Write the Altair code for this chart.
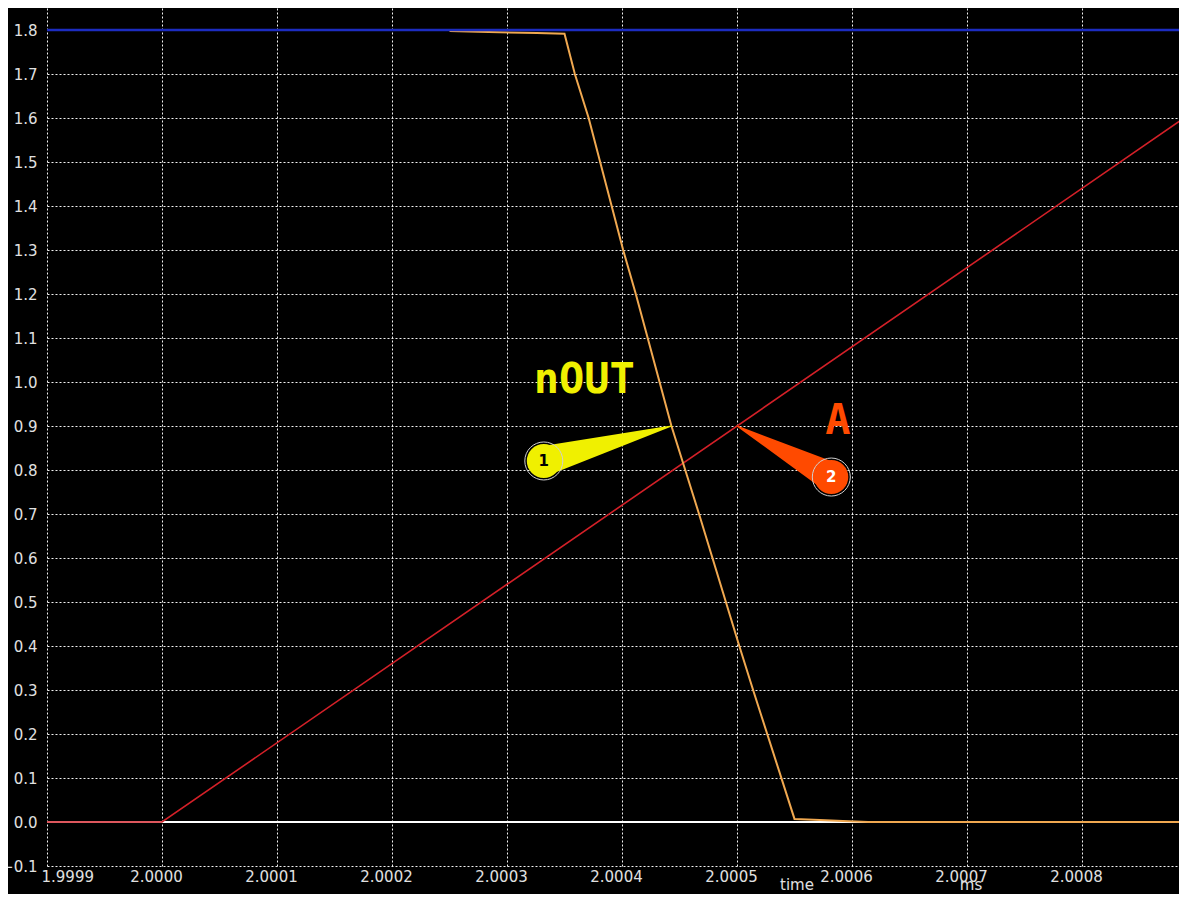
import altair as alt
import pandas as pd

# ---- data ----
x_ticks = [1.9999, 2.0000, 2.0001, 2.0002, 2.0003, 2.0004, 2.0005, 2.0006, 2.0007, 2.0008]
y_ticks = [-0.1, 0.0, 0.1, 0.2, 0.3, 0.4, 0.5, 0.6, 0.7, 0.8, 0.9,
           1.0, 1.1, 1.2, 1.3, 1.4, 1.5, 1.6, 1.7, 1.8]
x_domain = [1.9999, 2.00088435]
y_domain = [-0.1, 1.85]

white_t = [1.9999, 2.0009]
white_v = [0.0, 0.0]

blue_t = [1.9999, 2.0009]
blue_v = [1.8, 1.8]

red_t = [1.9999, 2.0000, 2.0010]
red_v = [0.0, 0.0, 1.8]

orange_t = [2.00025, 2.000275, 2.000326, 2.00035, 2.000359, 2.000371, 2.000401,
            2.000412, 2.000443, 2.000455, 2.000467, 2.000502, 2.000514, 2.00055,
            2.000572, 2.000592, 2.000614, 2.0009]
orange_v = [1.798, 1.796, 1.793, 1.7915, 1.7, 1.6, 1.3, 1.2, 0.9, 0.8, 0.7,
            0.4, 0.3, 0.007, 0.0045, 0.0023, 0.0, 0.0]

# callouts: tip on the trace, bubble centre, label position
callout_id = ["1", "2"]
callout_tip_t = [2.000443, 2.0005]
callout_tip_v = [0.9, 0.9]
callout_c_t = [2.000332, 2.000582]
callout_c_v = [0.8205, 0.784]
callout_color = ["#f0f000", "#ff4a00"]
callout_numcolor = ["#000000", "#ffffff"]
label_text = ["nOUT", "A"]
label_t = [2.0003672, 2.0005877]
label_v = [0.975, 0.8818]

FONT = "DejaVu Sans"
LBL = "#e0e0e0"

xs = alt.Scale(domain=x_domain, nice=False, zero=False)
ys = alt.Scale(domain=y_domain, nice=False, zero=False)

xenc = alt.X("t:Q", scale=xs,
             axis=alt.Axis(values=x_ticks, format=".4f", title=None, grid=True,
                           labelOffset=-6, labelPadding=3))
yenc = alt.Y("v:Q", scale=ys,
             axis=alt.Axis(values=y_ticks, format=".1f", title=None, grid=True,
                           labelPadding=10))

def line_df(t, v):
    return pd.DataFrame({"t": t, "v": v})

white = alt.Chart(line_df(white_t, white_v)).mark_line(color="#ffffff", strokeWidth=2, clip=True).encode(x=xenc, y=yenc)
red = alt.Chart(line_df(red_t, red_v)).mark_line(color="#d42028", strokeWidth=1.6, clip=True).encode(x="t:Q", y="v:Q")
orange = alt.Chart(line_df(orange_t, orange_v)).mark_line(color="#f0a850", strokeWidth=2, clip=True).encode(x="t:Q", y="v:Q")
blue = alt.Chart(line_df(blue_t, blue_v)).mark_line(color="#1c2cc0", strokeWidth=2.5, clip=True).encode(x="t:Q", y="v:Q")

# wedge (trail) rows
wedge_rows = []
for i, cid in enumerate(callout_id):
    wedge_rows.append({"id": cid, "t": callout_tip_t[i], "v": callout_tip_v[i], "w": 0.0, "col": callout_color[i], "o": 0})
    wedge_rows.append({"id": cid, "t": callout_c_t[i], "v": callout_c_v[i], "w": 30.0, "col": callout_color[i], "o": 1})
wedge_df = pd.DataFrame(wedge_rows)
wedges = alt.Chart(wedge_df).mark_trail().encode(
    x="t:Q", y="v:Q", detail="id:N",
    size=alt.Size("w:Q", scale=None, legend=None),
    color=alt.Color("col:N", scale=None, legend=None),
    order="o:Q",
)

bub_df = pd.DataFrame({"t": callout_c_t, "v": callout_c_v, "col": callout_color,
                       "num": callout_id, "ncol": callout_numcolor})
rings = alt.Chart(bub_df).mark_point(shape="circle", filled=False, size=38 * 38,
                                     stroke="#d0d0d0", strokeWidth=1, opacity=1).encode(x="t:Q", y="v:Q")
discs = alt.Chart(bub_df).mark_point(shape="circle", filled=True, size=34 * 34, opacity=1).encode(
    x="t:Q", y="v:Q", color=alt.Color("col:N", scale=None, legend=None))
nums = alt.Chart(bub_df).mark_text(font=FONT, fontSize=15, fontWeight="bold",
                                   align="center", baseline="middle").encode(
    x="t:Q", y="v:Q", text="num:N", color=alt.Color("ncol:N", scale=None, legend=None))

lab_df = pd.DataFrame({"t": label_t, "v": label_v, "txt": label_text, "col": callout_color})
labels = alt.Chart(lab_df).mark_text(font="DejaVu Sans Mono", fontSize=42, fontWeight="bold",
                                     align="center", baseline="alphabetic").encode(
    x="t:Q", y="v:Q", text="txt:N", color=alt.Color("col:N", scale=None, legend=None))

title_df = pd.DataFrame({"txt": ["time"]})
ms_df = pd.DataFrame({"txt": ["ms"]})
t_time = alt.Chart(title_df).mark_text(font=FONT, fontSize=15, color=LBL, align="center", baseline="alphabetic").encode(
    x=alt.value(750), y=alt.value(882), text="txt:N")
t_ms = alt.Chart(ms_df).mark_text(font=FONT, fontSize=15, color=LBL, align="center", baseline="alphabetic").encode(
    x=alt.value(924), y=alt.value(882), text="txt:N")

chart = alt.layer(white, red, orange, blue, wedges, rings, discs, nums, labels, t_time, t_ms).properties(
    width=1132, height=858,
    autosize=alt.AutoSizeParams(type="none"),
    padding={"left": 39, "top": 0, "right": 0, "bottom": 28},
).configure(background="#000000").configure_view(stroke=None).configure_axis(
    grid=True, gridColor="#ffffff", gridDash=[2, 2], gridWidth=1, gridOpacity=0.95,
    domain=False, ticks=False, labelColor=LBL, labelFont=FONT, labelFontSize=15,
)

chart.save("out.html", embed_options={"renderer": "svg", "actions": False})
